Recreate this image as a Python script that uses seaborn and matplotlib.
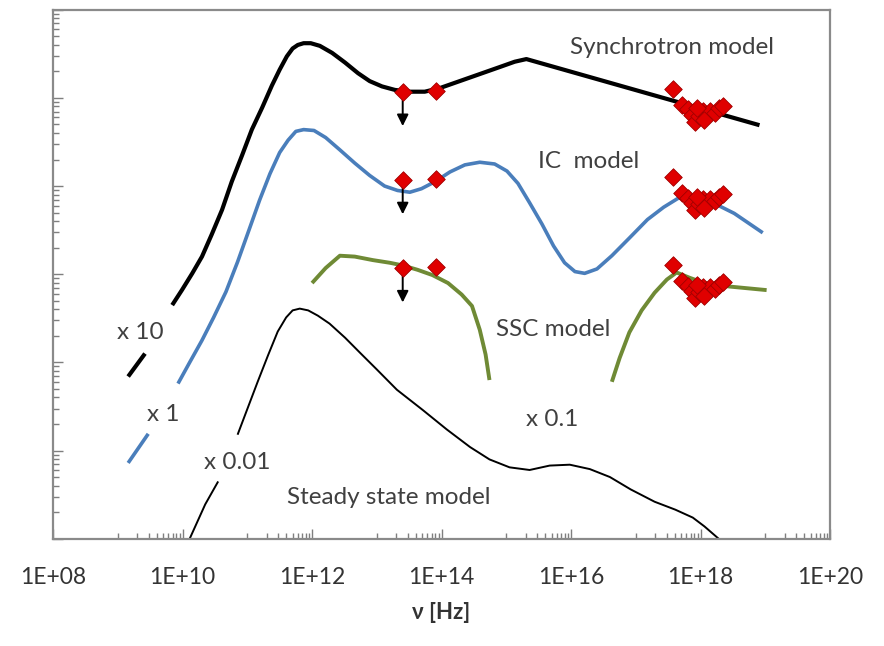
import numpy as np
import pandas as pd
import matplotlib
matplotlib.use("Agg")
import matplotlib.pyplot as plt
import seaborn as sns
from matplotlib.ticker import FixedLocator, LogLocator, NullFormatter

nan = np.nan

# Model curves: log10(nu / Hz) and log10(flux) in arbitrary units,
# already multiplied by the scale factor written next to each curve. NaN = gap in the line.
sync_lognu = [9.16, 9.42, nan,
              9.84, 9.99, 10.15, 10.30, 10.45, 10.61, 10.76, 10.92, 11.07, 11.23, 11.38, 11.50,
              11.61, 11.70, 11.78, 11.87, 11.98, 12.12, 12.31, 12.51, 12.71, 12.89, 13.08, 13.28,
              13.51, 13.74, 13.97, 14.28, 14.59, 14.90, 15.13, 15.31, 18.91]
sync_logf = [1.84, 2.10, nan,
             2.65, 2.82, 3.01, 3.20, 3.45, 3.73, 4.05, 4.35, 4.64, 4.89, 5.14, 5.32,
             5.47, 5.56, 5.60, 5.62, 5.62, 5.59, 5.51, 5.40, 5.28, 5.19, 5.13, 5.09,
             5.07, 5.07, 5.11, 5.19, 5.27, 5.35, 5.41, 5.44, 4.69]

ic_lognu = [9.16, 9.47, nan,
            9.93, 10.11, 10.30, 10.48, 10.67, 10.85, 11.04, 11.19, 11.35, 11.50, 11.63, 11.75,
            11.87, 12.03, 12.21, 12.43, 12.66, 12.89, 13.12, 13.32, 13.51, 13.69, 13.90, 14.13,
            14.36, 14.59, 14.82, 15.01, 15.18, 15.36, 15.55, 15.73, 15.90, 16.06, 16.21, 16.40,
            16.63, 16.90, 17.18, 17.43, 17.65, 17.83, 17.98, 18.22, 18.52, 18.96]
ic_logf = [0.86, 1.19, nan,
           1.76, 2.00, 2.25, 2.51, 2.80, 3.14, 3.53, 3.84, 4.14, 4.38, 4.52, 4.62,
           4.64, 4.63, 4.55, 4.41, 4.26, 4.12, 4.00, 3.95, 3.93, 3.97, 4.05, 4.16,
           4.24, 4.27, 4.25, 4.17, 4.03, 3.81, 3.57, 3.32, 3.13, 3.03, 3.01, 3.06,
           3.21, 3.41, 3.62, 3.76, 3.86, 3.88, 3.87, 3.80, 3.69, 3.47]

ssc_lognu = [12.00, 12.21, 12.43, 12.66, 12.94, 13.20, 13.40, 13.63, 13.86, 14.10, 14.31,
             14.47, 14.59, 14.68, 14.74, nan,
             16.63, 16.75, 16.90, 17.09, 17.29, 17.48, 17.63, 17.83, 18.06, 18.45, 19.02]
ssc_logf = [2.90, 3.07, 3.21, 3.20, 3.16, 3.13, 3.10, 3.05, 2.99, 2.90, 2.77,
            2.64, 2.37, 2.09, 1.80, nan,
            1.78, 2.05, 2.34, 2.59, 2.79, 2.94, 3.02, 2.96, 2.90, 2.86, 2.82]

steady_lognu = [10.08, 10.11, 10.35, 10.55, nan,
                10.85, 11.01, 11.16, 11.32, 11.47, 11.60, 11.70, 11.81, 11.94, 12.09, 12.27,
                12.51, 12.74, 13.00, 13.31, 13.71, 14.08, 14.44, 14.74, 15.05, 15.36, 15.67,
                15.98, 16.29, 16.60, 16.92, 17.29, 17.61, 17.88, 18.06, 18.28, 18.32]
steady_logf = [-0.07, 0.00, 0.39, 0.65, nan,
               1.18, 1.49, 1.78, 2.08, 2.35, 2.51, 2.59, 2.61, 2.59, 2.53, 2.44,
               2.28, 2.11, 1.92, 1.69, 1.46, 1.24, 1.04, 0.90, 0.81, 0.78, 0.83,
               0.84, 0.79, 0.70, 0.56, 0.42, 0.33, 0.24, 0.14, 0.00, -0.07]

# Observed points (unscaled, "x 1" level); first one is an upper limit
obs_lognu = [13.40, 13.91, 17.58, 17.72, 17.80, 17.86, 17.91, 17.97, 18.03, 18.09,
             18.15, 18.22, 18.28, 18.34, 17.94, 18.06]
obs_logf = [4.07, 4.08, 4.10, 3.92, 3.87, 3.81, 3.73, 3.80, 3.85, 3.81,
            3.85, 3.83, 3.88, 3.91, 3.88, 3.75]
obs_uplim = [True] + [False] * 15

# scale factors (log10) applied to the data for the three fitted panels
data_shifts = [1, 0, -1]

xtick_exp = [8, 10, 12, 14, 16, 18, 20]
xtick_labels = ["1E+08", "1E+10", "1E+12", "1E+14", "1E+16", "1E+18", "1E+20"]

sns.set_style("white")
plt.rcParams["font.family"] = ["Lato", "DejaVu Sans"]

fig, ax = plt.subplots(figsize=(8.84, 6.46), dpi=100)
fig.subplots_adjust(left=0.060, right=0.939, bottom=0.166, top=0.985)
ax.set_xscale("log")
ax.set_yscale("log")


def draw_model(lognu, logf, color, lw):
    df = pd.DataFrame({"nu": 10.0 ** np.array(lognu), "f": 10.0 ** np.array(logf)})
    df["seg"] = df["nu"].isna().cumsum()
    df = df.dropna()
    sns.lineplot(data=df, x="nu", y="f", units="seg", estimator=None, sort=False,
                 color=color, lw=lw, ax=ax, legend=False,
                 solid_capstyle="butt", solid_joinstyle="round", zorder=2)


draw_model(sync_lognu, sync_logf, "black", 3.0)
draw_model(ic_lognu, ic_logf, "#4a7ebb", 2.6)
draw_model(ssc_lognu, ssc_logf, "#6f8a35", 2.8)
draw_model(steady_lognu, steady_logf, "black", 1.4)

# observations repeated for each model, with the matching scale factor
for shift in data_shifts:
    nu = 10.0 ** np.array(obs_lognu)
    f = 10.0 ** (np.array(obs_logf) + shift)
    for n, v, lim in zip(nu, f, obs_uplim):
        if lim:
            ax.annotate("", xy=(n, v * 10 ** -0.39), xytext=(n, v),
                        arrowprops=dict(arrowstyle="-|>", color="black", lw=1.4,
                                        mutation_scale=17, shrinkA=0, shrinkB=0),
                        zorder=4)
    sns.scatterplot(x=nu, y=f, marker="D", s=80, color="#e00000",
                    edgecolor="#a00000", linewidth=0.6, zorder=5, ax=ax, legend=False)

ax.set_xlim(1e8, 1e20)
ax.set_ylim(1, 1e6)

ax.xaxis.set_major_locator(FixedLocator([10.0 ** e for e in xtick_exp]))
ax.set_xticklabels(xtick_labels)
ax.xaxis.set_minor_locator(FixedLocator([k * 10.0 ** e for e in range(9, 20, 2) for k in range(1, 10)]))
ax.xaxis.set_minor_formatter(NullFormatter())
ax.yaxis.set_major_locator(LogLocator(base=10))
ax.yaxis.set_minor_locator(LogLocator(base=10, subs=np.arange(2, 10)))
ax.yaxis.set_major_formatter(NullFormatter())
ax.yaxis.set_minor_formatter(NullFormatter())

ax.tick_params(which="both", direction="in", color="#7f7f7f", width=1.0,
               bottom=True, left=True, top=False, right=False)
ax.tick_params(which="major", length=7)
ax.tick_params(which="minor", length=4)
ax.tick_params(axis="x", which="major", labelsize=16.5, labelcolor="#333333", pad=20)

for sp in ax.spines.values():
    sp.set_color("#8a8a8a")
    sp.set_linewidth(1.6)

ax.set_xlabel("ν [Hz]", fontsize=16, fontweight="bold", color="#333333")
ax.xaxis.set_label_coords(0.5, -0.12)
ax.set_ylabel("")

txt = dict(transform=ax.transAxes, fontsize=17.5, color="#404040", ha="center", va="center", zorder=6)
ax.text(0.797, 0.928, "Synchrotron model", **txt)
ax.text(0.689, 0.713, "IC  model", **txt)
ax.text(0.644, 0.395, "SSC model", **txt)
ax.text(0.432, 0.078, "Steady state model", **txt)
ax.text(0.112, 0.389, "x 10", **txt)
ax.text(0.142, 0.234, "x 1", **txt)
ax.text(0.237, 0.144, "x 0.01", **txt)
ax.text(0.642, 0.225, "x 0.1", **txt)

fig.savefig("out.png", dpi=100)
